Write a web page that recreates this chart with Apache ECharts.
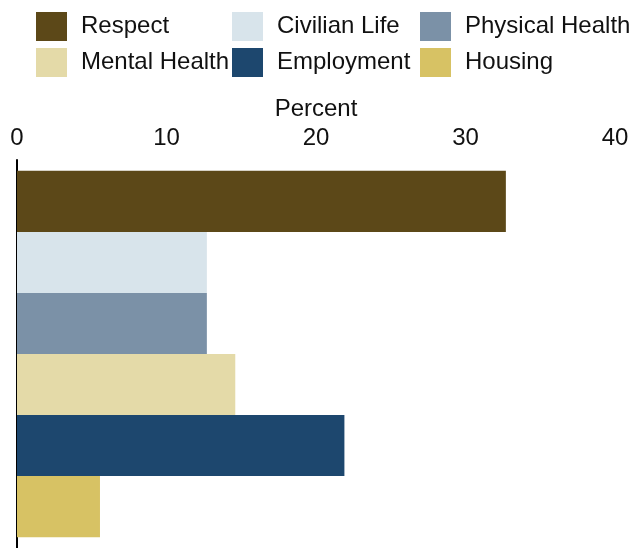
<!DOCTYPE html>
<html>
<head>
<meta charset="utf-8">
<script src="https://cdn.jsdelivr.net/npm/echarts@6/dist/echarts.min.js"></script>
<style>
html,body{margin:0;padding:0;background:#fff;}
#chart{width:636px;height:548px;}
</style>
</head>
<body>
<div id="chart"></div>
<script>
const seriesNames = ['Respect', 'Civilian Life', 'Physical Health', 'Mental Health', 'Employment', 'Housing'];
const seriesValues = [32.7, 12.7, 12.7, 14.6, 21.9, 5.55];
const seriesColors = ['#5C4818', '#D8E4EB', '#7B91A7', '#E4DAA8', '#1D476E', '#D7C264'];
const xTicks = [0, 10, 20, 30, 40];
const axisTitle = 'Percent';

const FONT = 'Liberation Sans, Arial, sans-serif';
const legendPos = [[36, 12], [232, 12], [420, 12], [36, 48], [232, 48], [420, 48]];

const chart = echarts.init(document.getElementById('chart'));
const option = {
  animation: false,
  backgroundColor: '#fff',
  legend: seriesNames.map((n, i) => ({
    data: [n],
    left: legendPos[i][0],
    top: legendPos[i][1],
    padding: 0,
    itemWidth: 31,
    itemHeight: 29,
    icon: 'rect',
    textStyle: { fontFamily: FONT, fontSize: 24, color: '#111', padding: [0, 0, 0, 9] }
  })),
  grid: { left: 17, right: 21, top: 160, bottom: -4, containLabel: false },
  xAxis: {
    type: 'value',
    position: 'top',
    min: xTicks[0],
    max: xTicks[xTicks.length - 1],
    interval: 10,
    name: axisTitle,
    nameLocation: 'middle',
    nameGap: 38,
    nameTextStyle: { fontFamily: FONT, fontSize: 24, color: '#111' },
    axisLine: { show: false },
    axisTick: { show: false },
    splitLine: { show: false },
    axisLabel: { fontFamily: FONT, fontSize: 24, color: '#111', margin: 10 }
  },
  yAxis: {
    type: 'category',
    data: [''],
    inverse: true,
    axisLine: { show: true, lineStyle: { color: '#000', width: 2 } },
    axisTick: { show: false },
    axisLabel: { show: false }
  },
  series: seriesNames.map((n, i) => ({
    name: n,
    type: 'bar',
    data: [seriesValues[i]],
    barGap: '0%',
    barCategoryGap: '5.6%',
    itemStyle: { color: seriesColors[i] }
  }))
};
chart.setOption(option);
</script>
</body>
</html>
